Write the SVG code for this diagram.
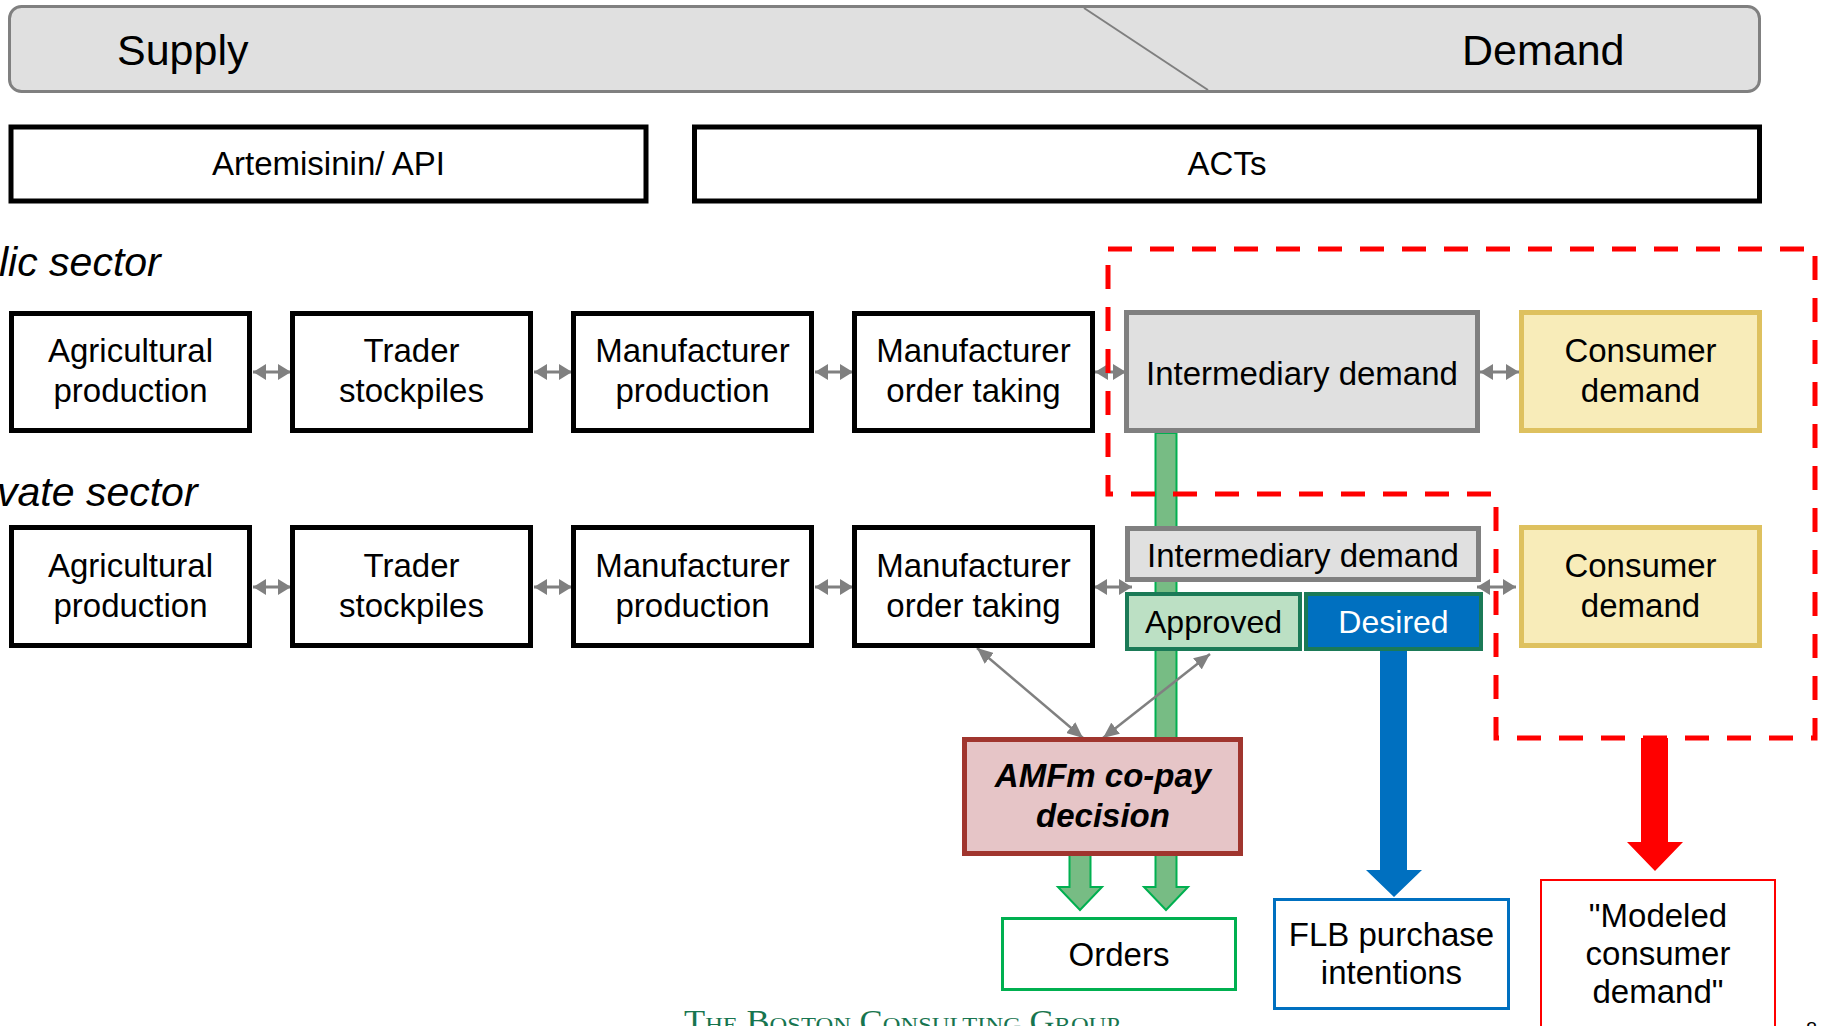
<svg xmlns="http://www.w3.org/2000/svg" width="1828" height="1026" viewBox="0 0 1828 1026">
<style>
  text { font-family: "Liberation Sans", Arial, sans-serif; fill: #000; }
  .t { font-size: 33px; text-anchor: middle; }
  .t32 { font-size: 32px; text-anchor: middle; }
  .hdr { font-size: 43px; }
  .sec { font-size: 41px; font-style: italic; }
  .blk { fill: #fff; stroke: #000; stroke-width: 5; }
  .gry { fill: #e0e0e0; stroke: #808080; stroke-width: 5; }
  .yel { fill: #f8ecb9; stroke: #dec15f; stroke-width: 5; }
  .dbl { stroke: #808080; stroke-width: 3; fill: none; marker-start: url(#ah); marker-end: url(#ah); }
  .diag { stroke: #808080; stroke-width: 2.5; fill: none; marker-start: url(#ah2); marker-end: url(#ah2); }
</style>
<defs>
  <marker id="ah" markerUnits="userSpaceOnUse" markerWidth="13" markerHeight="16" refX="13" refY="8" orient="auto-start-reverse">
    <path d="M0,0 L13,8 L0,16 z" fill="#808080"/>
  </marker>
  <marker id="ah2" markerUnits="userSpaceOnUse" markerWidth="16" markerHeight="14" refX="16" refY="7" orient="auto-start-reverse">
    <path d="M0,0 L16,7 L0,14 z" fill="#808080"/>
  </marker>
</defs>

<g id="header">
  <rect x="9.5" y="6.5" width="1750" height="85" rx="12" ry="12" fill="#e0e0e0" stroke="#808080" stroke-width="3"/>
  <line x1="1084" y1="8" x2="1208" y2="90" stroke="#7f7f7f" stroke-width="2"/>
  <text class="hdr" x="117" y="65">Supply</text>
  <text class="hdr" x="1462" y="65">Demand</text>
</g>

<g id="artemisinin">
  <rect class="blk" x="11" y="127" width="635" height="74"/>
  <text class="t" x="328.5" y="175">Artemisinin/ API</text>
</g>
<g id="acts">
  <rect class="blk" x="694.5" y="127" width="1065" height="74"/>
  <text class="t" x="1227" y="175">ACTs</text>
</g>

<text class="sec" x="-1" y="276">lic sector</text>
<text class="sec" x="-3" y="506">vate sector</text>

<g id="connectors">
  <path d="M1155.5,433 H1176.5 V887 H1188 L1166,910 L1144,887 H1155.5 Z" fill="#77bc84" stroke="#00b050" stroke-width="2"/>
  <path d="M1069.5,855 H1090.5 V887 H1102 L1080,910 L1058,887 H1069.5 Z" fill="#77bc84" stroke="#00b050" stroke-width="2"/>
  <path d="M1380,651 H1407 V870 H1422 L1394,897 L1366,870 H1380 Z" fill="#0070c0"/>
  <path d="M1641,738 H1668 V842 H1683 L1655,871 L1627,842 H1641 Z" fill="#ff0000"/>
  <line class="dbl" x1="253" y1="372" x2="291" y2="372"/>
  <line class="dbl" x1="534" y1="372" x2="572" y2="372"/>
  <line class="dbl" x1="815" y1="372" x2="853" y2="372"/>
  <line class="dbl" x1="1095" y1="372" x2="1126" y2="372"/>
  <line class="dbl" x1="1480" y1="372" x2="1519" y2="372"/>
  <line class="dbl" x1="253" y1="587" x2="291" y2="587"/>
  <line class="dbl" x1="534" y1="587" x2="572" y2="587"/>
  <line class="dbl" x1="815" y1="587" x2="853" y2="587"/>
  <line class="dbl" x1="1094" y1="587" x2="1132" y2="587"/>
  <line class="dbl" x1="1477" y1="587" x2="1516" y2="587"/>
  <line class="diag" x1="977" y1="648" x2="1083" y2="738"/>
  <line class="diag" x1="1210" y1="654" x2="1103" y2="738"/>
</g>

<g id="pub-agri">
  <rect class="blk" x="11.5" y="313.5" width="238" height="117"/>
  <text class="t" x="130.5" y="362">Agricultural</text>
  <text class="t" x="130.5" y="402">production</text>
</g>
<g id="pub-trader">
  <rect class="blk" x="292.5" y="313.5" width="238" height="117"/>
  <text class="t" x="411.5" y="362">Trader</text>
  <text class="t" x="411.5" y="402">stockpiles</text>
</g>
<g id="pub-mfgprod">
  <rect class="blk" x="573.5" y="313.5" width="238" height="117"/>
  <text class="t" x="692.5" y="362">Manufacturer</text>
  <text class="t" x="692.5" y="402">production</text>
</g>
<g id="pub-mfgorder">
  <rect class="blk" x="854.5" y="313.5" width="238" height="117"/>
  <text class="t" x="973.5" y="362">Manufacturer</text>
  <text class="t" x="973.5" y="402">order taking</text>
</g>
<g id="pub-intermediary">
  <rect class="gry" x="1126.5" y="312.5" width="351" height="118"/>
  <text class="t" x="1302" y="385">Intermediary demand</text>
</g>
<g id="pub-consumer">
  <rect class="yel" x="1521.5" y="312.5" width="238" height="118"/>
  <text class="t" x="1640.5" y="362">Consumer</text>
  <text class="t" x="1640.5" y="402">demand</text>
</g>

<g id="priv-agri">
  <rect class="blk" x="11.5" y="527.5" width="238" height="118"/>
  <text class="t" x="130.5" y="577">Agricultural</text>
  <text class="t" x="130.5" y="617">production</text>
</g>
<g id="priv-trader">
  <rect class="blk" x="292.5" y="527.5" width="238" height="118"/>
  <text class="t" x="411.5" y="577">Trader</text>
  <text class="t" x="411.5" y="617">stockpiles</text>
</g>
<g id="priv-mfgprod">
  <rect class="blk" x="573.5" y="527.5" width="238" height="118"/>
  <text class="t" x="692.5" y="577">Manufacturer</text>
  <text class="t" x="692.5" y="617">production</text>
</g>
<g id="priv-mfgorder">
  <rect class="blk" x="854.5" y="527.5" width="238" height="118"/>
  <text class="t" x="973.5" y="577">Manufacturer</text>
  <text class="t" x="973.5" y="617">order taking</text>
</g>
<g id="priv-intermediary">
  <rect class="gry" x="1127.5" y="528.5" width="351" height="51"/>
  <text class="t" x="1303" y="567">Intermediary demand</text>
</g>
<g id="approved">
  <rect x="1127" y="594" width="173" height="55" fill="#bce0c4" stroke="#1b7a57" stroke-width="4"/>
  <text class="t32" x="1213.5" y="633">Approved</text>
</g>
<g id="desired">
  <rect x="1306" y="594" width="175" height="55" fill="#0070c0" stroke="#1b7a57" stroke-width="4"/>
  <text class="t32" x="1393.5" y="633" style="fill:#fff">Desired</text>
</g>
<g id="priv-consumer">
  <rect class="yel" x="1521.5" y="527.5" width="238" height="118"/>
  <text class="t" x="1640.5" y="577">Consumer</text>
  <text class="t" x="1640.5" y="617">demand</text>
</g>

<path d="M1108,249 H1815 V738 H1496 V494 H1108 Z" fill="none" stroke="#ff0000" stroke-width="5" stroke-dasharray="24 18"/>

<g id="amfm">
  <rect x="964.5" y="739.5" width="276" height="114" fill="#e6c5c7" stroke="#a0352e" stroke-width="5"/>
  <text class="t" x="1103" y="787" style="font-weight:bold;font-style:italic">AMFm co-pay</text>
  <text class="t" x="1103" y="827" style="font-weight:bold;font-style:italic">decision</text>
</g>
<g id="orders">
  <rect x="1002.5" y="918.5" width="233" height="71" fill="#fff" stroke="#00b050" stroke-width="3"/>
  <text class="t" x="1119" y="966">Orders</text>
</g>
<g id="flb">
  <rect x="1274.5" y="899.5" width="234" height="109" fill="#fff" stroke="#0070c0" stroke-width="3"/>
  <text class="t" x="1391.5" y="946">FLB purchase</text>
  <text class="t" x="1391.5" y="984">intentions</text>
</g>
<g id="modeled">
  <rect x="1541" y="880" width="234" height="170" fill="#fff" stroke="#ff0000" stroke-width="2"/>
  <text class="t" x="1658" y="927">"Modeled</text>
  <text class="t" x="1658" y="965">consumer</text>
  <text class="t" x="1658" y="1003">demand"</text>
</g>

<text x="684" y="1032" textLength="436" lengthAdjust="spacingAndGlyphs" style="font-family:'Liberation Serif','Times New Roman',serif;font-variant:small-caps;font-size:31px;fill:#17754f">The Boston Consulting Group</text>
<text x="1806" y="1036" style="font-size:20px">8</text>
</svg>
